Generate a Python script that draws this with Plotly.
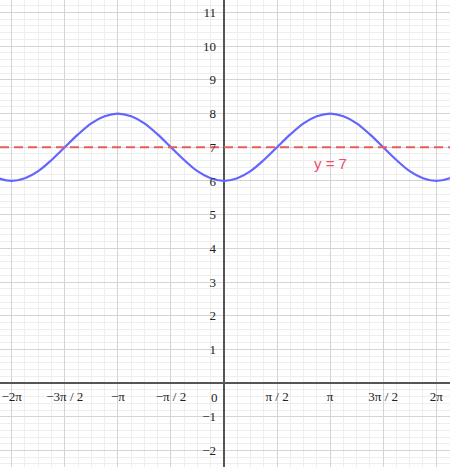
import numpy as np
import plotly.graph_objects as go

# curve samples: x in steps of pi/8, y
x_steps = list(range(-18, 19))
y_curve = [6.29, 6.08, 6.00, 6.08, 6.29, 6.62, 7.00, 7.38, 7.71, 7.92, 8.00,
           7.92, 7.71, 7.38, 7.00, 6.62, 6.29, 6.08, 6.00, 6.08, 6.29, 6.62,
           7.00, 7.38, 7.71, 7.92, 8.00, 7.92, 7.71, 7.38, 7.00, 6.62, 6.29,
           6.08, 6.00, 6.08, 6.29]
line_level = 7
line_label = "y = 7"

x_tick_steps = [-4, -3, -2, -1, 1, 2, 3, 4]
x_tick_text = ["−2π", "−3π / 2", "−π", "−π / 2", "π / 2", "π", "3π / 2", "2π"]
y_tick_vals = [-2, -1, 1, 2, 3, 4, 5, 6, 7, 8, 9, 10, 11]
y_tick_text = ["−2", "−1", "1", "2", "3", "4", "5", "6", "7", "8", "9", "10", "11"]

x_range = [-6.63, 6.69]
y_range = [-2.49, 11.37]

x_curve = [k * np.pi / 8 for k in x_steps]

fig = go.Figure()
fig.add_trace(go.Scatter(
    x=x_curve, y=y_curve, mode="lines",
    line=dict(color="#6464ff", width=2.2, shape="spline", smoothing=1.0),
    hoverinfo="skip", showlegend=False))
fig.add_trace(go.Scatter(
    x=x_range, y=[line_level, line_level], mode="lines",
    line=dict(color="#e85c5c", width=2, dash="9px,5px"),
    hoverinfo="skip", showlegend=False))

fig.add_annotation(x=np.pi, y=6.53, text=line_label, showarrow=False,
                   font=dict(family="Liberation Sans", size=15, color="#ee4d6c"))
fig.add_annotation(x=0, y=0, text="0", showarrow=False, xanchor="right",
                   yanchor="top", xshift=-4, yshift=-5,
                   font=dict(family="Liberation Serif", size=13, color="#222"))

tick_font = dict(family="Liberation Serif", size=13, color="#222")

fig.update_layout(
    width=450, height=467,
    margin=dict(l=0, r=0, t=0, b=0, pad=0, autoexpand=False),
    plot_bgcolor="white", paper_bgcolor="white",
    xaxis=dict(
        range=x_range, tickvals=[k * np.pi / 2 for k in x_tick_steps],
        ticktext=x_tick_text, tickfont=tick_font, automargin=False,
        anchor="free", position=(0 - y_range[0]) / (y_range[1] - y_range[0]),
        showgrid=True, gridcolor="#d4d4d4", gridwidth=1,
        minor=dict(tick0=0, dtick=np.pi / 8, showgrid=True, gridcolor="#eeeeee"),
        zeroline=True, zerolinecolor="#555", zerolinewidth=1.5,
        showline=False, ticks="", ticklabelstandoff=4, fixedrange=True),
    yaxis=dict(
        range=y_range, tickvals=y_tick_vals, ticktext=y_tick_text,
        tickfont=tick_font, automargin=False,
        anchor="free", position=(0 - x_range[0]) / (x_range[1] - x_range[0]),
        showgrid=True, gridcolor="#d4d4d4", gridwidth=1,
        minor=dict(tick0=0, dtick=0.2, showgrid=True, gridcolor="#eeeeee"),
        zeroline=True, zerolinecolor="#555", zerolinewidth=1.5,
        showline=False, ticks="", ticklabelstandoff=8, fixedrange=True),
)

fig.write_html("out.html", config={"displayModeBar": False},
               post_script="document.body.style.margin='0';"
                           "document.body.style.overflow='hidden';")
